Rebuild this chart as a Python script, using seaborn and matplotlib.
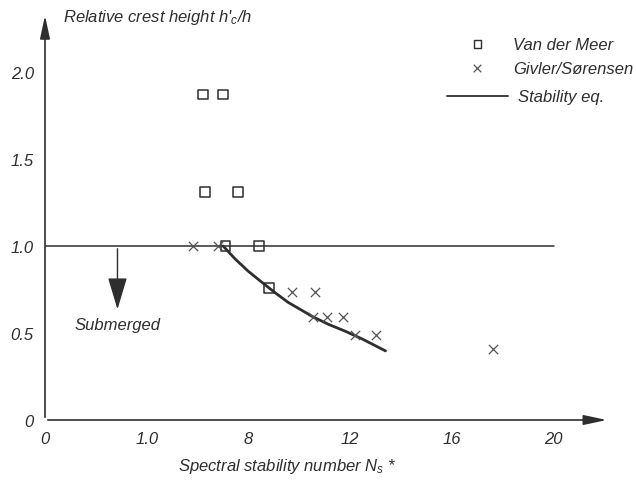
import matplotlib
matplotlib.use("Agg")
import matplotlib.pyplot as plt
import seaborn as sns
import pandas as pd

# Van der Meer tests (squares)
vdm_ns = [6.2, 7.0, 6.3, 7.6, 7.1, 8.4, 8.8]
vdm_h = [1.87, 1.87, 1.31, 1.31, 1.0, 1.0, 0.76]

# Givler/Sorensen tests (crosses)
gs_ns = [5.8, 6.8, 9.7, 10.6, 10.55, 11.1, 11.7, 12.2, 13.0, 17.6]
gs_h = [1.0, 1.0, 0.735, 0.735, 0.59, 0.59, 0.59, 0.49, 0.49, 0.41]

# stability equation curve
eq_ns = [7.0, 7.48, 7.99, 8.54, 9.06, 9.57, 10.16, 10.51, 11.14, 11.81,
         12.48, 13.39]
eq_h = [1.0, 0.925, 0.855, 0.79, 0.73, 0.675, 0.625, 0.595, 0.55, 0.51,
        0.465, 0.397]

x_ticks = [0, 4, 8, 12, 16, 20]
x_labels = ["0", "1.0", "8", "12", "16", "20"]
y_ticks = [0, 0.5, 1.0, 1.5, 2.0]
y_labels = ["0", "0.5", "1.0", "1.5", "2.0"]

INK = "#2e2e2e"
FS = 12

sns.set_style("white")
plt.rcParams["font.family"] = ["Liberation Sans", "DejaVu Sans"]
plt.rcParams["font.style"] = "italic"
plt.rcParams["mathtext.fontset"] = "custom"
plt.rcParams["mathtext.it"] = "Liberation Sans:italic"
plt.rcParams["mathtext.rm"] = "Liberation Sans:italic"

fig = plt.figure(figsize=(6.36, 4.81), dpi=100)
ax = fig.add_axes([45 / 636, 60 / 481, 590 / 636, 409 / 481])
ax.set_xlim(0, 23.2)
ax.set_ylim(0, 2.35)

vdm = pd.DataFrame({"ns": vdm_ns, "h": vdm_h})
gs = pd.DataFrame({"ns": gs_ns, "h": gs_h})
eq = pd.DataFrame({"ns": eq_ns, "h": eq_h})

# reference line at h'c/h = 1
ax.plot([0, 20], [1.0, 1.0], color=INK, lw=1.1, zorder=1)

sns.lineplot(data=eq, x="ns", y="h", ax=ax, color=INK, lw=2.0, zorder=2)
sns.scatterplot(data=vdm, x="ns", y="h", ax=ax, marker="s", s=50,
                facecolor="none", edgecolor=INK, linewidth=1.1, zorder=3)
sns.scatterplot(data=gs, x="ns", y="h", ax=ax, marker="x", s=45,
                color="#555555", linewidth=0.9, zorder=3)

# axes as arrows
for side in ["top", "right", "left", "bottom"]:
    ax.spines[side].set_visible(False)
ax.annotate("", xy=(22.2, 0), xytext=(0, 0),
            arrowprops=dict(arrowstyle="-|>,head_length=1.4,head_width=0.3",
                            color=INK, lw=1.2), annotation_clip=False)
ax.annotate("", xy=(0, 2.34), xytext=(0, 0),
            arrowprops=dict(arrowstyle="-|>,head_length=1.4,head_width=0.3",
                            color=INK, lw=1.2), annotation_clip=False)

ax.set_xticks(x_ticks)
ax.set_xticklabels(x_labels)
ax.set_yticks(y_ticks)
ax.set_yticklabels(y_labels)
ax.tick_params(axis="both", direction="inout", length=9, width=1.0,
               color=INK, labelcolor=INK, labelsize=FS)
for lbl in ax.get_xticklabels() + ax.get_yticklabels():
    lbl.set_fontstyle("italic")
    lbl.set_family(["Liberation Sans", "DejaVu Sans"])
ax.set_xlabel("")
ax.set_ylabel("")

# submerged arrow
ax.annotate("", xy=(2.85, 0.62), xytext=(2.85, 1.0),
            arrowprops=dict(arrowstyle="-|>,head_length=2.0,head_width=0.6",
                            color=INK, lw=1.0))
ax.text(2.85, 0.55, "Submerged", ha="center", va="center", fontsize=FS,
        color=INK)

ax.text(0.7, 2.32, "Relative crest height h'$_c$/h", ha="left", va="center",
        fontsize=FS, color=INK)
fig.text(0.28, 0.03, "Spectral stability number N$_s$ *", ha="left",
         va="center", fontsize=FS, color=INK, style="italic")

# legend drawn by hand at top right
lx = 17.0
ax.scatter([lx], [2.16], marker="s", s=30, facecolor="none", edgecolor=INK,
           linewidth=1.0)
ax.text(18.4, 2.16, "Van der Meer", va="center", fontsize=FS, color=INK)
ax.scatter([lx], [2.02], marker="x", s=30, color="#555555", linewidth=0.9)
ax.text(18.4, 2.02, "Givler/Sørensen", va="center", fontsize=FS, color=INK)
ax.plot([15.8, 18.2], [1.86, 1.86], color=INK, lw=1.3)
ax.text(18.6, 1.86, "Stability eq.", va="center", fontsize=FS, color=INK)

fig.savefig("out.png", dpi=100)
